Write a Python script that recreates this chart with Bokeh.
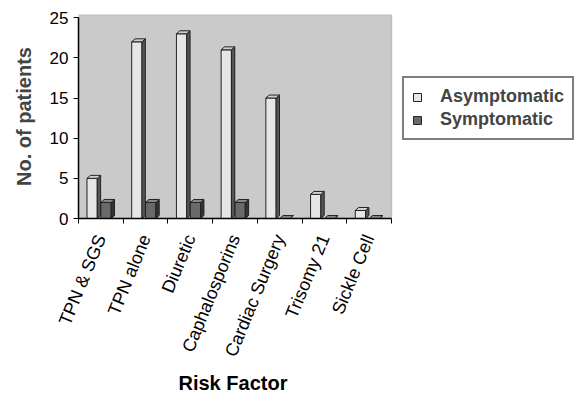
from bokeh.plotting import figure
from bokeh.models import (ColumnDataSource, FixedTicker, Legend, LegendItem, Range1d,
                          BoxAnnotation, Title)
from bokeh.embed import file_html
from bokeh.resources import INLINE

categories = ["TPN & SGS", "TPN alone", "Diuretic", "Caphalosporins",
              "Cardiac Surgery", "Trisomy 21", "Sickle Cell"]
asymptomatic = [5, 22, 23, 21, 15, 3, 1]
symptomatic = [2, 2, 2, 2, 0, 0, 0]
y_ticks = [0, 5, 10, 15, 20, 25]

FONT = "Liberation Sans"
n = len(categories)
X_END = n * 497 / 313.0  # frame spans past the wall so the legend fits beside it

p = figure(width=575, height=399, output_backend="svg", toolbar_location=None,
           x_range=Range1d(0, X_END), y_range=Range1d(0, 25.4),
           min_border_left=78, min_border_right=0, min_border_top=14,
           min_border_bottom=181)
p.background_fill_color = "white"
p.border_fill_color = "white"
p.outline_line_color = None
p.grid.visible = False

# back wall of the chart
p.add_layout(BoxAnnotation(left=0, right=n, bottom=0, top=25.4, level="underlay",
                           fill_color="#cacaca", fill_alpha=1,
                           line_color="#707070", line_width=1.5))

# bar geometry (in data units)
W = 0.23
DX = 0.075
DY = 0.37


def bar_parts(values, offset):
    left = [i + offset for i in range(len(values))]
    right = [l + W for l in left]
    front = dict(left=left, right=right, top=values, bottom=[0] * len(values))
    side_xs = [[r, r + DX, r + DX, r] for r in right]
    side_ys = [[0, DY, v + DY, v] for v in values]
    top_xs = [[l, r, r + DX, l + DX] for l, r in zip(left, right)]
    top_ys = [[v, v, v + DY, v + DY] for v in values]
    return front, dict(xs=side_xs, ys=side_ys), dict(xs=top_xs, ys=top_ys)


fa, sa, ta = bar_parts(asymptomatic, 0.19)
fs, ss, ts = bar_parts(symptomatic, 0.50)

ra = p.quad(source=ColumnDataSource(fa), left="left", right="right", top="top",
            bottom="bottom", fill_color="#e6e6e6", line_color="#222222", line_width=1)
p.patches(source=ColumnDataSource(sa), xs="xs", ys="ys", fill_color="#555555",
          line_color="#222222", line_width=1)
p.patches(source=ColumnDataSource(ta), xs="xs", ys="ys", fill_color="#d0d0d0",
          line_color="#222222", line_width=1)

rs = p.quad(source=ColumnDataSource(fs), left="left", right="right", top="top",
            bottom="bottom", fill_color="#6a6a6a", line_color="#222222", line_width=1)
p.patches(source=ColumnDataSource(ss), xs="xs", ys="ys", fill_color="#333333",
          line_color="#222222", line_width=1)
p.patches(source=ColumnDataSource(ts), xs="xs", ys="ys", fill_color="#8a8a8a",
          line_color="#222222", line_width=1)

# x axis
xa = p.xaxis[0]
xa.bounds = (0, n)
xa.ticker = FixedTicker(ticks=[i + 0.5 for i in range(n)],
                        minor_ticks=list(range(n + 1)))
xa.major_label_overrides = {i + 0.5: c for i, c in enumerate(categories)}
xa.major_label_orientation = 1.18
xa.major_tick_out = 0
xa.major_tick_in = 0
xa.minor_tick_out = 5
xa.minor_tick_in = 0
xa.minor_tick_line_color = "black"
xa.axis_line_color = "black"
xa.axis_line_width = 1.5
xa.major_label_text_font = FONT
xa.major_label_text_font_size = "18px"
xa.major_label_text_color = "black"
xa.major_label_standoff = 12

# x axis title, centred under the chart wall
p.add_layout(Title(text="Risk Factor", align="left", offset=100, standoff=7,
                   text_font=FONT, text_font_style="bold", text_font_size="20px",
                   text_color="black"), "below")

# y axis
ya = p.yaxis[0]
ya.ticker = FixedTicker(ticks=y_ticks)
ya.bounds = (0, 25)
ya.major_tick_out = 5
ya.major_tick_in = 0
ya.minor_tick_line_color = None
ya.axis_line_color = "black"
ya.axis_line_width = 1.5
ya.major_label_text_font = FONT
ya.major_label_text_font_size = "17px"
ya.major_label_text_color = "black"
ya.major_label_standoff = 5
ya.axis_label = "No. of patients"
ya.axis_label_text_font = FONT
ya.axis_label_text_font_style = "bold"
ya.axis_label_text_font_size = "20px"
ya.axis_label_standoff = 12

legend = Legend(items=[LegendItem(label="Asymptomatic", renderers=[ra]),
                       LegendItem(label="Symptomatic", renderers=[rs])],
                location=(324, 78))
legend.label_text_font = FONT
legend.label_text_font_style = "bold"
legend.label_text_font_size = "18px"
legend.glyph_width = 10
legend.glyph_height = 10
legend.label_height = 14
legend.spacing = 2
legend.padding = 8
legend.margin = 0
legend.label_standoff = 18
legend.border_line_color = "black"
legend.border_line_width = 2
legend.background_fill_color = "white"
legend.background_fill_alpha = 1
p.add_layout(legend, "center")

open("out.html", "w").write(file_html(p, INLINE))
